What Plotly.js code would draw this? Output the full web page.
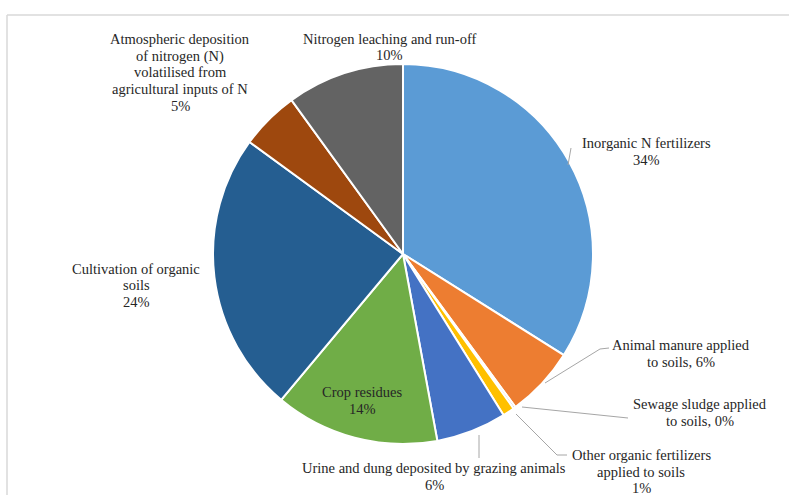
<!DOCTYPE html>
<html>
<head>
<meta charset="utf-8">
<script src="https://cdn.plot.ly/plotly-3.0.1.min.js"></script>
<style>html,body{margin:0;padding:0;background:#fff;}#chart{width:789px;height:495px;}</style>
</head>
<body>
<div id="chart"></div>
<script>
// ---- data ----
const categories = [
  "Inorganic N fertilizers",
  "Animal manure applied to soils",
  "Sewage sludge applied to soils",
  "Other organic fertilizers applied to soils",
  "Urine and dung deposited by grazing animals",
  "Crop residues",
  "Cultivation of organic soils",
  "Atmospheric deposition of nitrogen (N) volatilised from agricultural inputs of N",
  "Nitrogen leaching and run-off"
];
const shares = [34, 6, 0.2, 1, 6, 14, 24, 5, 10];
const labelTexts = [
  "Inorganic N fertilizers<br>34%",
  "Animal manure applied<br>to soils, 6%",
  "Sewage sludge applied<br>to soils, 0%",
  "Other organic fertilizers<br>applied to soils<br>1%",
  "Urine and dung deposited by grazing animals<br>6%",
  "Crop residues<br>14%",
  "Cultivation of organic<br>soils<br>24%",
  "Atmospheric deposition<br>of nitrogen (N)<br>volatilised from<br>agricultural inputs of N<br>5%",
  "Nitrogen leaching and run-off<br>10%"
];
const colors = ["#5B9BD5","#ED7D31","#A5A5A5","#FFC000","#4472C4","#70AD47","#255E91","#9E480E","#636363"];

// ---- layout helpers (pixel -> paper) ----
const W = 789, H = 495;
const px = x => x / W;
const py = y => 1 - y / H;

const labelPos = [
  [646, 151.5], [681, 353.5], [700, 412.5], [641, 471.5], [434, 476.5],
  [362, 400.5], [136, 285], [180, 72.5], [389, 47]
];

const FONT = 'Liberation Serif';
const LINE_H = 16.5;

const annotations = [];
labelTexts.forEach((t, i) => {
  const lines = t.split('<br>');
  const n = lines.length;
  lines.forEach((ln, k) => {
    annotations.push({
      text: ln, showarrow: false, xref: 'paper', yref: 'paper',
      x: px(labelPos[i][0]), y: py(labelPos[i][1] + (k - (n - 1) / 2) * LINE_H),
      xanchor: 'center', yanchor: 'middle', align: 'center',
      font: {family: FONT, size: 14.5, color: '#262626'}
    });
  });
});

const leaders = [
  [[571,148],[568,165]],
  [[609,348],[600,349],[545,383]],
  [[522,407],[628,418]],
  [[516,414],[557,455],[567,455]],
  [[479,435],[479,458]]
];
const shapes = leaders.map(pts => ({
  type: 'path', xref: 'paper', yref: 'paper',
  path: pts.map((p, k) => (k ? 'L' : 'M') + px(p[0]) + ',' + py(p[1])).join(' '),
  line: {color: '#A6A6A6', width: 1}
}));
// chart-area frame
shapes.push({type:'line', xref:'paper', yref:'paper', x0:px(7), x1:1, y0:py(15), y1:py(15), line:{color:'#D9D9D9', width:1.5}});
shapes.push({type:'line', xref:'paper', yref:'paper', x0:px(7), x1:px(7), y0:py(15), y1:0, line:{color:'#D9D9D9', width:1.5}});

const trace = {
  type: 'pie',
  labels: categories,
  values: shares,
  sort: false,
  direction: 'clockwise',
  rotation: 0,
  textinfo: 'none',
  marker: {colors: colors, line: {color: '#FFFFFF', width: 2}},
  domain: {x: [px(213), px(593)], y: [py(444), py(64)]},
  showlegend: false
};

Plotly.newPlot('chart', [trace], {
  width: W, height: H,
  margin: {l: 0, r: 0, t: 0, b: 0},
  paper_bgcolor: '#FFFFFF',
  showlegend: false,
  font: {family: FONT},
  annotations: annotations,
  shapes: shapes
}, {displayModeBar: false, staticPlot: true});
</script>
</body>
</html>
